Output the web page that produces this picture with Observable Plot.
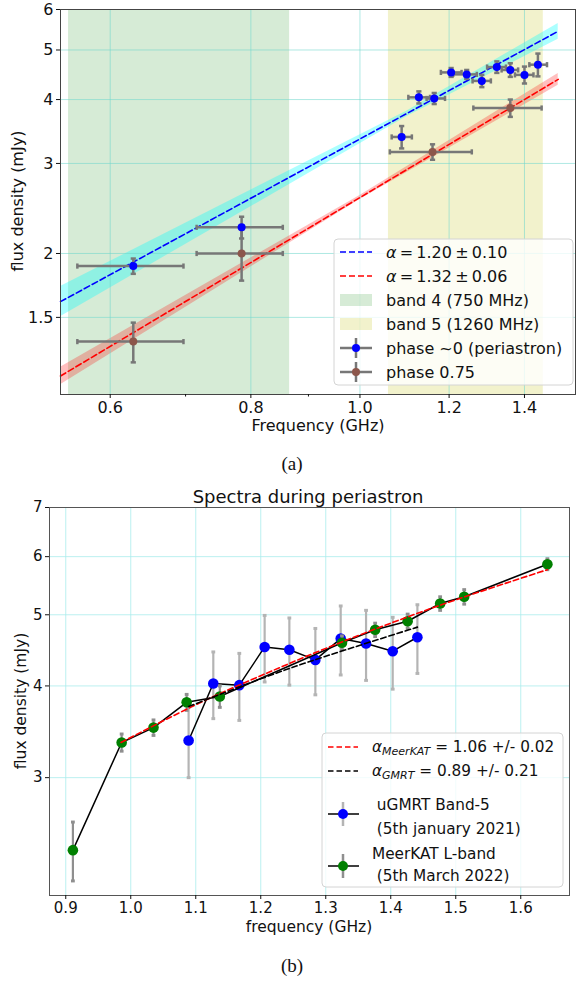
<!DOCTYPE html>
<html><head><meta charset="utf-8">
<script src="https://cdn.jsdelivr.net/npm/d3@7"></script>
<script src="https://cdn.jsdelivr.net/npm/@observablehq/plot@0.6"></script>
<style>
body{margin:0;background:#fff;}
#fig{position:relative;width:576px;height:981px;overflow:hidden;background:#fff;}
#fig svg{position:absolute;left:0;}
.cap{position:absolute;left:0;width:584px;text-align:center;font-family:"Liberation Serif","DejaVu Serif",serif;font-size:19px;color:#111;}
</style></head><body><div id="fig"></div>
<script>
// ---------- Panel (a) data ----------
const band4 = [0.551, 0.866];
const band5 = [1.06, 1.455];
const xTicksA = [0.6, 0.8, 1.0, 1.2, 1.4];
const xMinorA = [0.7, 0.9];
const yTicksA = [1.5, 2, 3, 4, 5, 6];

const freqA0   = [0.629, 0.785, 1.089, 1.128, 1.164, 1.205, 1.244, 1.283, 1.323, 1.360, 1.400, 1.439];
const fluxA0   = [1.89, 2.25, 3.38, 4.04, 4.02, 4.52, 4.48, 4.35, 4.63, 4.57, 4.47, 4.68];
const freqLoA0 = [0.561, 0.716, 1.067, 1.104, 1.146, 1.180, 1.210, 1.259, 1.297, 1.336, 1.373, 1.414];
const freqHiA0 = [0.697, 0.854, 1.112, 1.154, 1.190, 1.231, 1.270, 1.307, 1.348, 1.382, 1.426, 1.466];
const fluxErrA0 = [0.065, 0.11, 0.17, 0.11, 0.10, 0.09, 0.09, 0.12, 0.12, 0.14, 0.17, 0.24];

const freqA75   = [0.629, 0.785, 1.160, 1.360];
const fluxA75   = [1.345, 2.00, 3.16, 3.85];
const freqLoA75 = [0.561, 0.716, 1.063, 1.261];
const freqHiA75 = [0.697, 0.854, 1.257, 1.450];
const fluxErrA75 = [0.12, 0.23, 0.11, 0.15];

const fitFreqA   = [0.542, 1.5];
const fitFluxP0  = [1.61, 5.44];
const fitFluxP75 = [1.152, 4.38];
const bandFreqP0 = [0.542, 1.1, 1.5];
const bandLoP0   = [1.505, 3.70, 5.25];
const bandHiP0   = [1.723, 3.796, 5.636];
const bandFreqP75 = [0.542, 1.0, 1.5];
const bandLoP75   = [1.107, 2.551, 4.265];
const bandHiP75   = [1.199, 2.597, 4.498];

// ---------- Panel (b) data ----------
const xTicksB = [0.9, 1.0, 1.1, 1.2, 1.3, 1.4, 1.5, 1.6];
const yTicksB = [3, 4, 5, 6, 7];
const freqMK = [0.911, 0.986, 1.035, 1.086, 1.137, 1.325, 1.376, 1.426, 1.476, 1.513, 1.641];
const fluxMK = [2.39, 3.35, 3.51, 3.80, 3.87, 4.58, 4.77, 4.90, 5.18, 5.29, 5.86];
const errMK  = [0.22, 0.09, 0.085, 0.095, 0.13, 0.10, 0.10, 0.11, 0.11, 0.12, 0.10];
const freqGM = [1.089, 1.127, 1.167, 1.206, 1.244, 1.284, 1.323, 1.362, 1.403, 1.441];
const fluxGM = [3.37, 4.03, 4.01, 4.52, 4.48, 4.34, 4.64, 4.57, 4.46, 4.66];
const errGM  = [0.37, 0.42, 0.42, 0.47, 0.47, 0.45, 0.50, 0.50, 0.50, 0.50];
// fitted power-law curves, read along their length (curved on a linear-x / log-y plot)
const fitFreqMK = [0.985, 1.1, 1.2, 1.3, 1.4, 1.5, 1.641];
const fitFluxMK = [3.35, 3.77, 4.13, 4.50, 4.87, 5.24, 5.76];
const fitFreqGM = [1.089, 1.2, 1.3, 1.441];
const fitFluxGM = [3.75, 4.09, 4.39, 4.81];

// ---------- helpers ----------
const vcap = {draw(ctx, size){const r=Math.sqrt(size/Math.PI); ctx.moveTo(0,-r); ctx.lineTo(0,r);}};
const hcap = {draw(ctx, size){const r=Math.sqrt(size/Math.PI); ctx.moveTo(-r,0); ctx.lineTo(r,0);}};
const FONT = "DejaVu Sans, sans-serif";

const rowsA0 = freqA0.map((f,i)=>({freq:f, flux:fluxA0[i], lo:freqLoA0[i], hi:freqHiA0[i], err:fluxErrA0[i]}));
const rowsA75 = freqA75.map((f,i)=>({freq:f, flux:fluxA75[i], lo:freqLoA75[i], hi:freqHiA75[i], err:fluxErrA75[i]}));
const fitA = fitFreqA.map((f,i)=>({freq:f, p0:fitFluxP0[i], p75:fitFluxP75[i]}));
const bandP0 = bandFreqP0.map((f,i)=>({freq:f, lo:bandLoP0[i], hi:bandHiP0[i]}));
const bandP75 = bandFreqP75.map((f,i)=>({freq:f, lo:bandLoP75[i], hi:bandHiP75[i]}));
const bandsA = [{lo:band4[0], hi:band4[1], c:"green", o:0.16}, {lo:band5[0], hi:band5[1], c:"#bfbf00", o:0.2}];

function errMarks(rows, color, w){
  return [
    Plot.link(rows, {x1:"lo", x2:"hi", y1:"flux", y2:"flux", stroke:color, strokeWidth:w}),
    Plot.link(rows, {x1:"freq", x2:"freq", y1:d=>d.flux-d.err, y2:d=>d.flux+d.err, stroke:color, strokeWidth:w}),
    Plot.dot(rows, {x:"lo", y:"flux", symbol:vcap, r:2.6, fill:"none", stroke:color, strokeWidth:w}),
    Plot.dot(rows, {x:"hi", y:"flux", symbol:vcap, r:2.6, fill:"none", stroke:color, strokeWidth:w}),
    Plot.dot(rows, {x:"freq", y:d=>d.flux-d.err, symbol:hcap, r:2.6, fill:"none", stroke:color, strokeWidth:w}),
    Plot.dot(rows, {x:"freq", y:d=>d.flux+d.err, symbol:hcap, r:2.6, fill:"none", stroke:color, strokeWidth:w})
  ];
}

const gridColA = "#6fd8cc";
const A = Plot.plot({
  width: 576, height: 440,
  marginTop: 9, marginLeft: 60, marginRight: 1, marginBottom: 46,
  style: {fontFamily: FONT, fontSize: "16px", background: "transparent", color: "#111"},
  x: {type: "log", domain: [0.542, 1.554]},
  y: {type: "log", domain: [1.06, 6]},
  marks: [
    Plot.rect(bandsA, {x1:"lo", x2:"hi", fill:d=>d.c, fillOpacity:d=>d.o}),
    Plot.areaY(bandP0, {x:"freq", y1:"lo", y2:"hi", fill:"cyan", fillOpacity:0.33}),
    Plot.areaY(bandP75, {x:"freq", y1:"lo", y2:"hi", fill:"red", fillOpacity:0.25}),
    Plot.gridX(xTicksA, {stroke: gridColA, strokeOpacity: 0.7, strokeWidth: 0.8}),
    Plot.gridY(yTicksA, {stroke: gridColA, strokeOpacity: 0.7, strokeWidth: 0.8}),
    Plot.line(fitA, {x:"freq", y:"p0", stroke:"blue", strokeWidth:1.6, strokeDasharray:"6,3"}),
    Plot.line(fitA, {x:"freq", y:"p75", stroke:"red", strokeWidth:1.6, strokeDasharray:"6,3"}),
    ...errMarks(rowsA0, "#777", 2.5),
    ...errMarks(rowsA75, "#777", 2.5),
    Plot.dot(rowsA0, {x:"freq", y:"flux", r:4, fill:"blue"}),
    Plot.dot(rowsA75, {x:"freq", y:"flux", r:4, fill:"#8c564b"}),
    Plot.frame({stroke:"#444", strokeWidth:1}),
    Plot.axisX(xTicksA, {tickFormat:d=>d.toFixed(1), tickSize:4, tickPadding:3, label:null, fontSize:16}),
    Plot.axisX(xMinorA, {tickFormat:()=>"", tickSize:2.5, label:null}),
    Plot.axisY(yTicksA, {tickFormat:d=>String(d), tickSize:4, tickPadding:3, label:null, fontSize:16})
  ]
});

const rowsMK = freqMK.map((f,i)=>({freq:f, flux:fluxMK[i], err:errMK[i]}));
const rowsGM = freqGM.map((f,i)=>({freq:f, flux:fluxGM[i], err:errGM[i]}));
const fitMK = fitFreqMK.map((f,i)=>({freq:f, flux:fitFluxMK[i]}));
const fitGM = fitFreqGM.map((f,i)=>({freq:f, flux:fitFluxGM[i]}));

function vErr(rows, color){
  return [
    Plot.link(rows, {x1:"freq", x2:"freq", y1:d=>d.flux-d.err, y2:d=>d.flux+d.err, stroke:color, strokeWidth:2.2}),
    Plot.dot(rows, {x:"freq", y:d=>d.flux-d.err, symbol:hcap, r:1.9, fill:"none", stroke:color, strokeWidth:3}),
    Plot.dot(rows, {x:"freq", y:d=>d.flux+d.err, symbol:hcap, r:1.9, fill:"none", stroke:color, strokeWidth:3})
  ];
}
const gridColB = "#a9ecec";
const B = Plot.plot({
  width: 576, height: 470,
  marginTop: 37, marginLeft: 49, marginRight: 7, marginBottom: 45,
  style: {fontFamily: FONT, fontSize: "15px", background: "transparent", color: "#111"},
  x: {domain: [0.875, 1.675]},
  y: {type: "log", domain: [2.073, 7]},
  marks: [
    Plot.gridX(xTicksB, {stroke: gridColB, strokeOpacity: 1, strokeWidth: 0.8}),
    Plot.gridY(yTicksB, {stroke: gridColB, strokeOpacity: 1, strokeWidth: 0.8}),
    ...vErr(rowsGM, "#b4b4b4"),
    Plot.line(rowsGM, {x:"freq", y:"flux", stroke:"black", strokeWidth:1.5}),
    Plot.dot(rowsGM, {x:"freq", y:"flux", r:5.3, fill:"blue"}),
    ...vErr(rowsMK, "#8f8f8f"),
    Plot.line(rowsMK, {x:"freq", y:"flux", stroke:"black", strokeWidth:1.5}),
    Plot.dot(rowsMK, {x:"freq", y:"flux", r:5.3, fill:"green"}),
    Plot.line(fitMK, {x:"freq", y:"flux", stroke:"red", strokeWidth:1.6, strokeDasharray:"5.5,3", curve:"natural"}),
    Plot.line(fitGM, {x:"freq", y:"flux", stroke:"black", strokeWidth:1.6, strokeDasharray:"5.5,3", curve:"natural"}),
    Plot.frame({stroke:"#555", strokeWidth:1}),
    Plot.axisX(xTicksB, {tickFormat:d=>d.toFixed(1), tickSize:4, tickPadding:3, label:null, fontSize:15}),
    Plot.axisY(yTicksB, {tickFormat:d=>String(d), tickSize:4, tickPadding:3, label:null, fontSize:15})
  ]
});

const fig = document.getElementById("fig");
A.style.top = "0px";
B.style.top = "470px";
fig.appendChild(A);
fig.appendChild(B);

// ----- texts & legend (a) -----
(function(){
  const s = d3.select(A);
  s.append("text").attr("x",318).attr("y",425).attr("dy","0.35em").attr("text-anchor","middle")
    .attr("font-family",FONT).attr("font-size",16).attr("fill","#111").text("Frequency (GHz)");
  s.append("text").attr("transform","translate(17,201) rotate(-90)").attr("dy","0.35em").attr("text-anchor","middle")
    .attr("font-family",FONT).attr("font-size",16).attr("fill","#111").text("flux density (mJy)");
  const g = s.append("g").attr("font-family",FONT).attr("font-size",16).attr("fill","#111").attr("text-anchor","start");
  g.append("rect").attr("x",334).attr("y",239).attr("width",239).attr("height",146).attr("rx",4)
    .attr("fill","white").attr("fill-opacity",0.8).attr("stroke","#d4d4d4");
  const rows = [252, 276, 300, 324, 348, 372];
  const hx0 = 340, hx1 = 372, tx = 386;
  g.append("line").attr("x1",hx0).attr("x2",hx1).attr("y1",rows[0]).attr("y2",rows[0]).attr("stroke","blue").attr("stroke-width",1.6).attr("stroke-dasharray","6,3");
  g.append("line").attr("x1",hx0).attr("x2",hx1).attr("y1",rows[1]).attr("y2",rows[1]).attr("stroke","red").attr("stroke-width",1.6).attr("stroke-dasharray","6,3");
  g.append("rect").attr("x",hx0).attr("y",rows[2]-6).attr("width",hx1-hx0).attr("height",12).attr("fill","green").attr("fill-opacity",0.16);
  g.append("rect").attr("x",hx0).attr("y",rows[3]-6).attr("width",hx1-hx0).attr("height",12).attr("fill","#bfbf00").attr("fill-opacity",0.2);
  [[rows[4],"blue"],[rows[5],"#8c564b"]].forEach(([y,c])=>{
    const cx=(hx0+hx1)/2;
    g.append("line").attr("x1",hx0).attr("x2",hx1).attr("y1",y).attr("y2",y).attr("stroke","#777").attr("stroke-width",2.5);
    g.append("line").attr("x1",cx).attr("x2",cx).attr("y1",y-10).attr("y2",y+10).attr("stroke","#777").attr("stroke-width",2.5);
    g.append("circle").attr("cx",cx).attr("cy",y).attr("r",4).attr("fill",c);
  });
  const t1 = g.append("text").attr("x",tx).attr("y",rows[0]).attr("dy","0.35em");
  t1.append("tspan").attr("font-style","italic").text("α");
  t1.append("tspan").text("\u2009=\u20091.20\u2009±\u20090.10");
  const t2 = g.append("text").attr("x",tx).attr("y",rows[1]).attr("dy","0.35em");
  t2.append("tspan").attr("font-style","italic").text("α");
  t2.append("tspan").text("\u2009=\u20091.32\u2009±\u20090.06");
  g.append("text").attr("x",tx).attr("y",rows[2]).attr("dy","0.35em").text("band 4 (750 MHz)");
  g.append("text").attr("x",tx).attr("y",rows[3]).attr("dy","0.35em").text("band 5 (1260 MHz)");
  g.append("text").attr("x",tx).attr("y",rows[4]).attr("dy","0.35em").text("phase ~0 (periastron)");
  g.append("text").attr("x",tx).attr("y",rows[5]).attr("dy","0.35em").text("phase 0.75");
})();

// ----- texts & legend (b) -----
(function(){
  const s = d3.select(B);
  s.append("text").attr("x",308).attr("y",27).attr("dy","0.35em").attr("text-anchor","middle")
    .attr("font-family",FONT).attr("font-size",18).attr("fill","#111").text("Spectra during periastron");
  s.append("text").attr("x",309).attr("y",457).attr("dy","0.35em").attr("text-anchor","middle")
    .attr("font-family",FONT).attr("font-size",15.5).attr("fill","#111").text("frequency (GHz)");
  s.append("text").attr("transform","translate(21,231) rotate(-90)").attr("dy","0.35em").attr("text-anchor","middle")
    .attr("font-family",FONT).attr("font-size",15.5).attr("fill","#111").text("flux density (mJy)");
  const g = s.append("g").attr("font-family",FONT).attr("font-size",15.3).attr("fill","#111").attr("text-anchor","start");
  g.append("rect").attr("x",322).attr("y",263).attr("width",241).attr("height",154).attr("rx",4)
    .attr("fill","white").attr("fill-opacity",0.8).attr("stroke","#d4d4d4");
  const hx0 = 328, hx1 = 358;
  g.append("line").attr("x1",hx0).attr("x2",hx1).attr("y1",277).attr("y2",277).attr("stroke","red").attr("stroke-width",1.6).attr("stroke-dasharray","5.5,3");
  g.append("line").attr("x1",hx0).attr("x2",hx1).attr("y1",301).attr("y2",301).attr("stroke","black").attr("stroke-width",1.6).attr("stroke-dasharray","5.5,3");
  const a1 = g.append("text").attr("x",372).attr("y",277).attr("dy","0.35em");
  a1.append("tspan").attr("font-style","italic").text("α");
  a1.append("tspan").attr("font-style","italic").attr("font-size",11).attr("dy","3").text("MeerKAT");
  a1.append("tspan").attr("dy","-3").text(" = 1.06 +/- 0.02");
  const a2 = g.append("text").attr("x",372).attr("y",301).attr("dy","0.35em");
  a2.append("tspan").attr("font-style","italic").text("α");
  a2.append("tspan").attr("font-style","italic").attr("font-size",11).attr("dy","3").text("GMRT");
  a2.append("tspan").attr("dy","-3").text(" = 0.89 +/- 0.21");
  [[344,"blue","#b4b4b4"],[396,"green","#8f8f8f"]].forEach(([y,c,ec])=>{
    const cx = 343;
    g.append("line").attr("x1",cx).attr("x2",cx).attr("y1",y-12).attr("y2",y+12).attr("stroke",ec).attr("stroke-width",2.5);
    g.append("line").attr("x1",hx0).attr("x2",hx1+1).attr("y1",y).attr("y2",y).attr("stroke","black").attr("stroke-width",1.5);
    g.append("circle").attr("cx",cx).attr("cy",y).attr("r",5).attr("fill",c);
  });
  g.append("text").attr("x",372).attr("y",335).attr("dy","0.35em").text("\u00a0uGMRT Band-5");
  g.append("text").attr("x",372).attr("y",359).attr("dy","0.35em").text("\u00a0(5th january 2021)");
  g.append("text").attr("x",372).attr("y",384).attr("dy","0.35em").text("MeerKAT L-band");
  g.append("text").attr("x",372).attr("y",406).attr("dy","0.35em").text("\u00a0(5th March 2022)");
})();

// captions
const ca = document.createElement("div"); ca.className="cap"; ca.style.top="453px"; ca.textContent="(a)"; fig.appendChild(ca);
const cb = document.createElement("div"); cb.className="cap"; cb.style.top="955px"; cb.textContent="(b)"; fig.appendChild(cb);
</script></body></html>
